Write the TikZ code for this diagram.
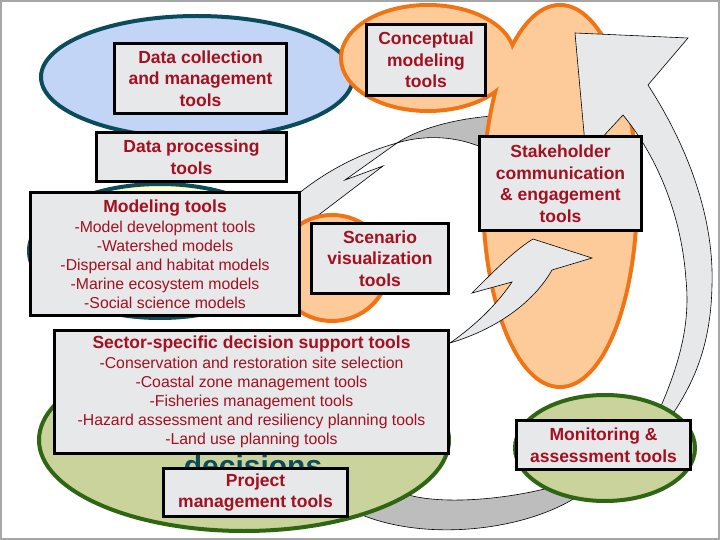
\documentclass[tikz,border=0pt]{standalone}
\usepackage{fontspec}
\setmainfont{Liberation Sans}
\usepackage{tikz}
\usepackage{xcolor}
\definecolor{xred}{HTML}{A3101F}
\definecolor{xbox}{HTML}{E6E8EA}
\definecolor{xblue}{HTML}{C2D5F7}
\definecolor{xteal}{HTML}{0B4C5C}
\definecolor{xpeach}{HTML}{FDCB99}
\definecolor{xorange}{HTML}{F27314}
\definecolor{xolive}{HTML}{C9D39B}
\definecolor{xgreen}{HTML}{2F6614}
\definecolor{xyellow}{HTML}{FFFFC6}
\definecolor{xdark}{HTML}{BDBDBD}

\begin{document}
\begin{tikzpicture}[x=1pt, y=-1pt,
		tbox/.style={draw=black, line width=3.5pt, fill=xbox, inner sep=0pt, align=center, text=xred, font=\bfseries\fontsize{17.5}{21.5}\selectfont},
		lbox/.style={tbox, font=\fontsize{15.8}{19}\selectfont},
		band/.style={draw=black, line width=0.6pt, fill=xbox},
		blob/.style={line width=4pt}]
		\useasboundingbox (0,0) rectangle (720,540);
		\fill[white] (0,0) rectangle (720,540);
		\draw[gray!70, line width=1.5pt] (1,1) rectangle (719,539);
		\draw[blob, draw=xteal, fill=xblue] (197,77) ellipse [x radius=156pt, y radius=61pt];
		\draw[band, fill=xdark] (492,116) .. controls (455,119) and (420,128) .. (397,143) .. controls (420,136) and (455,133) .. (492,152) -- cycle;
		\draw[band] (397,143) .. controls (365,152) and (330,168) .. (298,194) -- (298,230) -- (312,220) -- (383,166) -- (345,180) -- cycle;
		\draw[blob, draw=xteal, fill=xyellow] (160,251) ellipse [x radius=131pt, y radius=67pt];
		\draw[blob, draw=xorange, fill=xpeach] (332,268) ellipse [x radius=56pt, y radius=53pt];
		\foreach \cx/\cy/\rx/\ry in {428/58/85/51, 560/196/75/189}
			\draw[xorange, line width=8pt] (\cx,\cy) ellipse [x radius=\rx pt, y radius=\ry pt];
		\foreach \cx/\cy/\rx/\ry in {428/58/85/51, 560/196/75/189}
			\fill[xpeach] (\cx,\cy) ellipse [x radius=\rx pt, y radius=\ry pt];
		\draw[band] (533,239) -- (592,258) -- (552,270) .. controls (535,300) and (500,328) .. (450,343) .. controls (480,322) and (500,300) .. (512,282) -- (472,293) .. controls (495,270) and (515,250) .. (533,239) -- cycle;
		\draw[band] (575,33) -- (688,38) -- (648,85) .. controls (690,150) and (714,220) .. (712,285) .. controls (711,340) and (697,378) .. (672,415) -- (657,415) .. controls (682,360) and (690,320) .. (686,280) .. controls (682,220) and (660,160) .. (623,115) -- (586,155) -- cycle;
		\draw[band, fill=xdark] (400,492) .. controls (430,505) and (500,502) .. (560,485) -- (575,498) .. controls (520,532) and (420,542) .. (355,512) -- cycle;
		\draw[blob, draw=xgreen, fill=xolive] (244,440) ellipse [x radius=205pt, y radius=91pt];
		\draw[blob, draw=xgreen, fill=xolive] (605,448) ellipse [x radius=90pt, y radius=53pt];
		\node[text=xteal, font=\bfseries\fontsize{30}{36}\selectfont, anchor=base] (decisions) at (253,476) {decisions};
		\node[tbox, minimum width=172pt, minimum height=70pt] (datacoll) at (200.5,78.5) {Data collection\\and management\\tools};
		\node[tbox, minimum width=119pt, minimum height=71pt] (concept) at (426,60) {Conceptual\\modeling\\tools};
		\node[tbox, minimum width=190pt, minimum height=49pt] (dataproc) at (191.5,157) {Data processing\\tools};
		\node[tbox, minimum width=162pt, minimum height=94pt] (stake) at (560.5,183.5) {Stakeholder\\communication\\\& engagement\\tools};
		\node[lbox, minimum width=269pt, minimum height=123pt] (modeling) at (165,254) {{\bfseries\fontsize{17.5}{21}\selectfont Modeling tools}\\[1pt]-Model development tools\\-Watershed models\\-Dispersal and habitat models\\-Marine ecosystem models\\-Social science models};
		\node[tbox, minimum width=137pt, minimum height=70pt] (scenario) at (380,258.5) {Scenario\\visualization\\tools};
		\node[lbox, minimum width=394pt, minimum height=123pt] (sector) at (251.5,392) {{\bfseries\fontsize{17.5}{21}\selectfont Sector-specific decision support tools}\\[1pt]-Conservation and restoration site selection\\-Coastal zone management tools\\-Fisheries management tools\\-Hazard assessment and resiliency planning tools\\-Land use planning tools};
		\node[tbox, minimum width=184pt, minimum height=48pt] (project) at (255.5,492.5) {Project\\management tools};
		\node[tbox, minimum width=174pt, minimum height=49pt] (monitor) at (603.5,445) {Monitoring \&\\assessment tools};
	\end{tikzpicture}
\end{document}
